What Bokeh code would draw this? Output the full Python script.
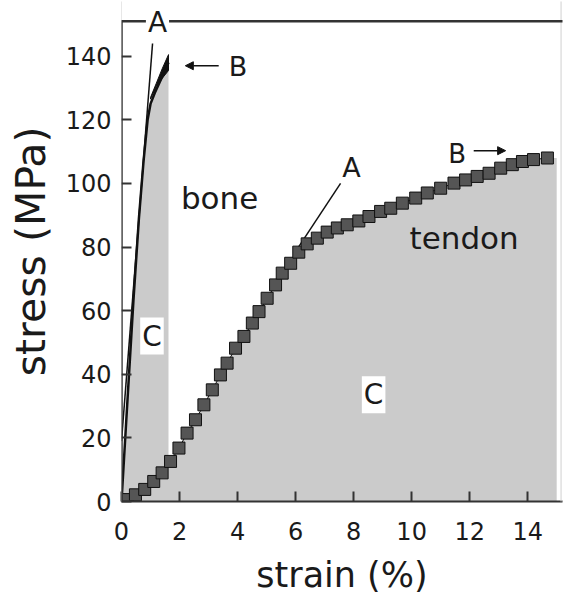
from bokeh.plotting import figure
from bokeh.models import Label, Arrow, NormalHead, Range1d, FixedTicker, BoxAnnotation
from bokeh.embed import file_html
from bokeh.resources import INLINE

# ---------------- data ----------------
x_ticks = [0, 2, 4, 6, 8, 10, 12, 14]
y_ticks = [0, 20, 40, 60, 80, 100, 120, 140]
axis_box_top = 151      # stress at which the top frame line sits
axis_box_right = 15.15  # strain at which the faint right frame line sits

# bone stress-strain curve (strain %, stress MPa)
bone_strain = [0, 0.2, 0.41, 0.6, 0.76, 0.9, 1.0, 1.15, 1.3, 1.45, 1.62]
bone_stress = [0, 31, 63, 89, 107, 120, 125, 128.5, 131.5, 134.5, 138]
# thickened end of the bone curve (upper / lower edge)
bone_tip_upper_strain = [1.0, 1.2, 1.4, 1.62]
bone_tip_upper_stress = [127, 131.5, 136, 140.5]
bone_tip_lower_strain = [1.62, 1.4, 1.2, 1.0]
bone_tip_lower_stress = [135.5, 133, 130.5, 126.5]
# bone tangent line "A"
bone_A_strain = [0, 1.07]
bone_A_stress = [19, 144]

# tendon stress-strain curve
tendon_strain = [0, 0.2, 0.48, 0.8, 1.11, 1.40, 1.69, 1.98, 2.26, 2.55, 2.84, 3.13,
                 3.41, 3.64, 3.93, 4.22, 4.51, 4.74, 5.02, 5.31, 5.54, 5.83, 6.11,
                 6.40, 6.75, 7.09, 7.44, 7.78, 8.18, 8.53, 8.93, 9.28, 9.68, 10.14,
                 10.54, 11.0, 11.46, 11.86, 12.26, 12.67, 13.07, 13.47, 13.82, 14.2, 14.68]
tendon_stress = [0, 0.6, 2.1, 3.8, 6.3, 9.0, 12.6, 16.8, 21.5, 25.7, 30.4, 35.1,
                 39.8, 43.5, 48.2, 51.9, 56.1, 59.7, 63.9, 68.1, 71.8, 74.9, 78.4,
                 81.0, 82.8, 84.7, 86.0, 87.0, 88.2, 89.6, 91.2, 92.2, 93.8, 95.4,
                 97.0, 98.5, 100.1, 101.1, 102.2, 103.2, 104.8, 105.9, 106.9, 107.5, 108.0]
tendon_fill_end = 15.0
# tendon tangent line "A"
tendon_A_strain = [6.1, 7.55]
tendon_A_stress = [80, 100]

FONT = "DejaVu Sans"
GRAY = "#cbcbcb"
TXT = "#1a1a1a"
DARK = "#333333"

p = figure(width=564, height=597, output_backend="svg", toolbar_location=None,
           x_range=Range1d(0, 15.2), y_range=Range1d(0, 157.2),
           min_border_left=121, min_border_right=2, min_border_top=1, min_border_bottom=96)
p.xgrid.visible = False
p.ygrid.visible = False
p.outline_line_color = None
p.background_fill_color = "white"
p.border_fill_color = "white"

# fills
p.varea(x=bone_strain, y1=[0] * len(bone_strain), y2=bone_stress, fill_color=GRAY)
p.varea(x=tendon_strain + [tendon_fill_end], y1=[0] * (len(tendon_strain) + 1),
        y2=tendon_stress + [tendon_stress[-1]], fill_color=GRAY)

# bone
p.line(bone_A_strain, bone_A_stress, line_color="#111111", line_width=1.5)
p.line(bone_strain, bone_stress, line_color="#111111", line_width=2.5)
p.patch(bone_tip_upper_strain + bone_tip_lower_strain,
        bone_tip_upper_stress + bone_tip_lower_stress,
        fill_color="#111111", line_color="#111111", line_width=1)

# tendon
p.line(tendon_A_strain, tendon_A_stress, line_color="#111111", line_width=1.5)
p.line(tendon_strain, tendon_stress, line_color="#111111", line_width=1)
p.scatter(tendon_strain, tendon_stress, marker="square", size=12,
          fill_color="#555555", line_color="#111111", line_width=1)

# frame lines (faint right side, dark top/left)
p.add_layout(BoxAnnotation(left=0, right=axis_box_right, bottom=-10, top=400,
                           fill_color=None, fill_alpha=0, line_color="#d0d0d0",
                           line_alpha=1, line_width=1))
p.add_layout(BoxAnnotation(left=0, right=20, bottom=-10, top=axis_box_top,
                           fill_color=None, fill_alpha=0, line_color=DARK,
                           line_alpha=1, line_width=2.5))

# axes
for ax in (p.xaxis[0], p.yaxis[0]):
    ax.axis_line_color = DARK
    ax.axis_line_width = 2
    ax.major_tick_line_color = DARK
    ax.major_tick_line_width = 2
    ax.major_tick_in = 10
    ax.major_tick_out = 0
    ax.minor_tick_line_color = None
    ax.major_label_text_font = FONT
    ax.major_label_text_font_size = "24px"
    ax.major_label_text_color = TXT
    ax.axis_label_text_font = FONT
    ax.axis_label_text_font_style = "normal"
    ax.axis_label_text_color = TXT

p.yaxis[0].axis_line_color = None
p.xaxis[0].ticker = FixedTicker(ticks=x_ticks)
p.yaxis[0].ticker = FixedTicker(ticks=y_ticks)
p.xaxis[0].major_label_standoff = 20
p.yaxis[0].major_label_standoff = 10
p.xaxis[0].axis_label = "strain (%)"
p.xaxis[0].axis_label_text_font_size = "35px"
p.xaxis[0].axis_label_standoff = 12
p.yaxis[0].axis_label = "stress (MPa)"
p.yaxis[0].axis_label_text_font_size = "41px"
p.yaxis[0].axis_label_standoff = 8


def lab(x, y, t, size="30px", bg=None):
    kw = dict(x=x, y=y, text=t, text_align="center", text_baseline="middle",
              text_font=FONT, text_font_size=size, text_color=TXT)
    if bg:
        kw.update(background_fill_color=bg, padding=2)
    p.add_layout(Label(**kw))


lab(1.24, 150.6, "A", "28px", bg="white")
lab(4.02, 136.8, "B", "27px")
lab(3.38, 95.3, "bone", "31px")
lab(1.05, 52, "C", "28px", bg="white")
lab(7.93, 105, "A", "27px")
lab(11.57, 109.3, "B", "26px")
lab(11.81, 82.7, "tendon", "31px")
lab(8.69, 33.6, "C", "28px", bg="white")

p.add_layout(Arrow(x_start=3.35, y_start=137, x_end=2.2, y_end=137, line_width=1.5,
                   line_color="#111111",
                   end=NormalHead(size=8, fill_color="#111111", line_color="#111111")))
p.add_layout(Arrow(x_start=12.14, y_start=110.3, x_end=13.24, y_end=110.3, line_width=1.5,
                   line_color="#111111",
                   end=NormalHead(size=8, fill_color="#111111", line_color="#111111")))

open("out.html", "w").write(file_html(p, INLINE))
